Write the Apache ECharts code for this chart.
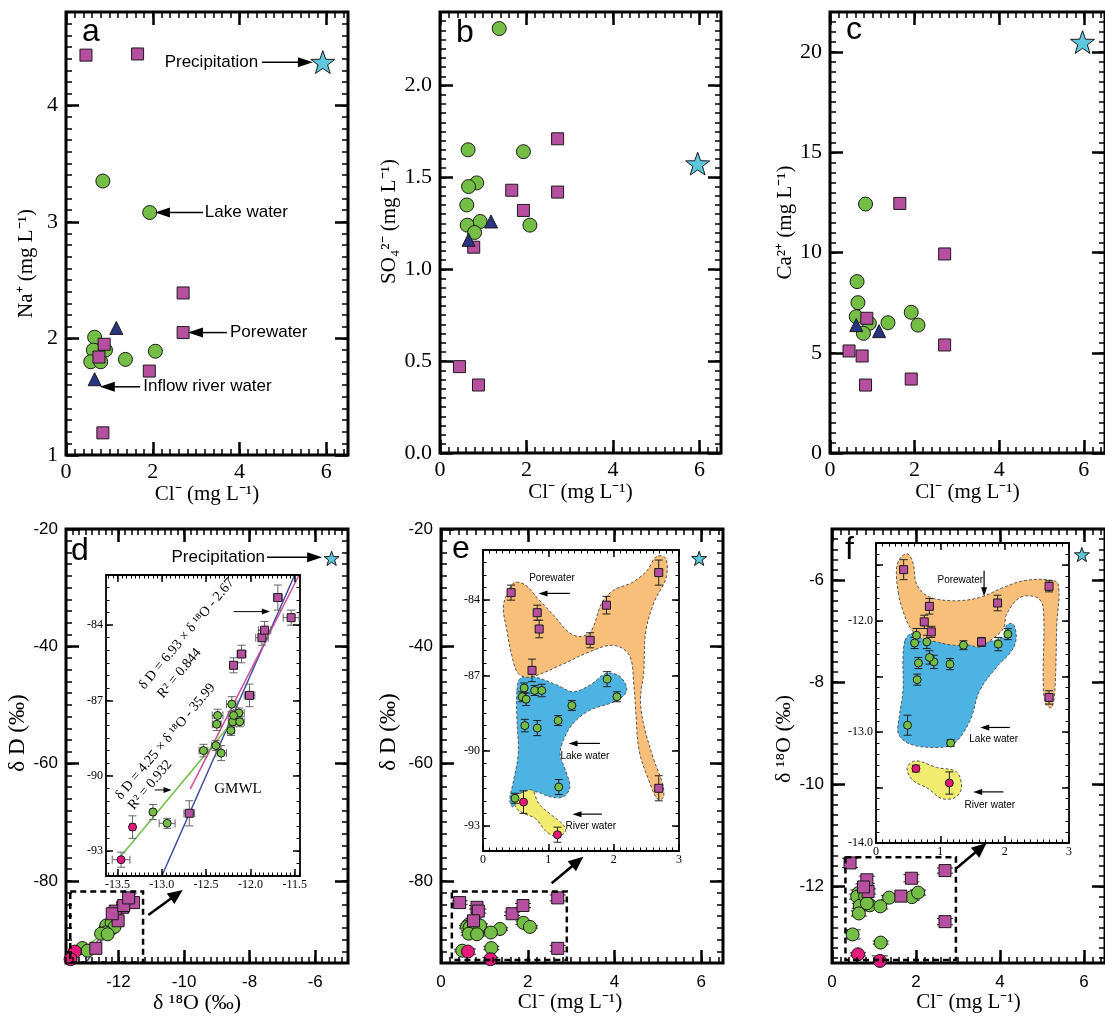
<!DOCTYPE html>
<html><head><meta charset="utf-8">
<script src="https://cdn.jsdelivr.net/npm/echarts@6/dist/echarts.min.js"></script>
<style>html,body{margin:0;padding:0;background:#fff}#c{width:1105px;height:1021px}</style>
</head><body><div id="c"></div>
<script>
// ================= DATA =================
// Panel a: Cl- vs Na+
const naLake   = [[0.85,3.35],[1.93,3.08],[0.66,2.01],[0.63,1.90],[0.91,1.90],[0.57,1.80],[0.80,1.80],[1.37,1.82],[2.06,1.89]];
const naPore   = [[0.46,4.43],[1.65,4.44],[2.70,2.39],[2.70,2.05],[0.88,1.95],[0.76,1.84],[1.92,1.72],[0.85,1.19]];
const naRiver  = [[1.16,2.09],[0.66,1.65]];
const naPrecip = [[5.92,4.37]];
// Panel b: Cl- vs SO4 2-
const so4Lake   = [[1.37,2.31],[0.65,1.65],[1.93,1.64],[0.85,1.47],[0.66,1.45],[0.62,1.35],[0.63,1.24],[0.93,1.26],[0.80,1.20],[2.08,1.24]];
const so4Pore   = [[2.72,1.71],[1.66,1.43],[2.72,1.42],[1.93,1.32],[0.78,1.12],[0.45,0.47],[0.89,0.37]];
const so4River  = [[1.18,1.26],[0.66,1.16]];
const so4Precip = [[5.96,1.575]];
// Panel c: Cl- vs Ca2+
const caLake   = [[0.84,12.42],[0.64,8.55],[0.66,7.50],[0.62,6.80],[0.93,6.47],[0.79,5.97],[1.37,6.50],[1.92,7.02],[2.08,6.38]];
const caPore   = [[1.65,12.45],[2.71,9.93],[0.87,6.72],[2.71,5.39],[0.45,5.09],[0.76,4.84],[1.92,3.69],[0.84,3.39]];
const caRiver  = [[0.62,6.38],[1.16,6.08]];
const caPrecip = [[5.97,20.5]];
// Isotopes (panels d, e, f) per sample
const poreCl     = [0.43, 0.83, 0.86, 0.75, 1.64, 1.89, 2.69, 2.69];
const poreD      = [-83.7, -84.5, -85.15, -86.8, -85.6, -84.2, -82.9, -91.5];
const pore18O    = [-11.54, -11.87, -12.10, -12.01, -12.19, -11.84, -11.69, -12.69];
const poreDErr   = [0.3, 0.3, 0.35, 0.45, 0.3, 0.35, 0.5, 0.5];
const pore18OErr = [0.09, 0.07, 0.05, 0.06, 0.04, 0.07, 0.05, 0.06];
const lakeCl     = [0.63, 0.60, 0.66, 0.79, 0.90, 1.36, 1.90, 2.05, 1.15, 0.64, 0.83, 1.16, 0.49];
const lakeD      = [-87.5, -87.85, -87.95, -87.6, -87.6, -88.2, -87.15, -87.85, -88.8, -89.0, -89.1, -91.45, -91.9];
const lake18O    = [-12.13, -12.20, -12.38, -12.19, -12.37, -12.22, -12.21, -12.12, -12.39, -12.53, -12.33, -13.10, -12.94];
const lakeDErr   = [0.2, 0.2, 0.25, 0.2, 0.25, 0.2, 0.3, 0.2, 0.2, 0.25, 0.3, 0.3, 0.2];
const lake18OErr = [0.06, 0.05, 0.05, 0.06, 0.06, 0.04, 0.06, 0.05, 0.05, 0.05, 0.06, 0.03, 0.09];
const riverCl     = [0.62, 1.14];
const riverD      = [-92.05, -93.35];
const river18O    = [-13.33, -13.46];
const riverDErr   = [0.45, 0.3];
const river18OErr = [0.03, 0.1];
const precipCl  = [5.95];
const precipD   = [-25.0];
const precip18O = [-5.5];
// Regression / meteoric water lines (end points)
const linePore = [[-12.68,-90.54],[-11.45,-82.0]];
const lineLake = [[-13.47,-93.24],[-12.12,-87.5]];
const lineGMWL = [[-13.0,-94.0],[-11.5,-82.0]];
// Group outlines in insets
const poreHullE  = [[0.31,-84.3],[0.37,-83.75],[0.48,-83.3],[0.65,-83.4],[0.86,-84.0],[1.08,-84.6],[1.3,-85.25],[1.47,-85.45],[1.65,-85.25],[1.82,-84.1],[2.0,-83.6],[2.28,-83.3],[2.5,-82.85],[2.66,-82.25],[2.8,-82.35],[2.8,-83.13],[2.62,-84.07],[2.49,-85.27],[2.46,-86.87],[2.41,-88.0],[2.47,-89.07],[2.62,-90.4],[2.75,-91.33],[2.76,-91.87],[2.67,-91.93],[2.54,-91.2],[2.39,-90.0],[2.34,-88.53],[2.31,-87.4],[2.24,-86.2],[2.0,-85.8],[1.64,-86.05],[1.18,-86.6],[0.72,-87.07],[0.54,-86.93],[0.44,-86.2],[0.36,-85.13]];
const lakeHullE  = [[0.52,-87.6],[0.57,-87.12],[0.77,-87.05],[1.13,-87.38],[1.38,-87.65],[1.64,-87.38],[1.89,-86.92],[2.1,-87.05],[2.2,-87.6],[2.05,-88.0],[1.64,-88.38],[1.43,-88.78],[1.28,-89.3],[1.18,-90.1],[1.26,-90.77],[1.33,-91.44],[1.23,-91.84],[1.03,-91.84],[0.8,-91.64],[0.62,-91.77],[0.46,-92.24],[0.41,-91.97],[0.46,-91.3],[0.54,-90.1],[0.52,-88.78]];
const riverHullE = [[0.57,-91.7],[0.75,-91.57],[0.85,-92.1],[1.05,-92.57],[1.23,-92.96],[1.26,-93.23],[1.13,-93.43],[0.97,-93.23],[0.8,-92.7],[0.62,-92.5],[0.5,-92.24],[0.51,-91.8]];
const poreHullF  = [[0.35,-11.76],[0.32,-11.52],[0.40,-11.42],[0.50,-11.40],[0.58,-11.49],[0.63,-11.67],[0.81,-11.78],[1.20,-11.82],[1.61,-11.79],[1.98,-11.70],[2.29,-11.64],[2.65,-11.63],[2.83,-11.67],[2.81,-12.03],[2.78,-12.63],[2.73,-12.78],[2.64,-12.75],[2.60,-12.57],[2.60,-11.88],[2.50,-11.79],[2.24,-11.79],[2.03,-11.94],[1.98,-12.07],[1.77,-12.18],[1.61,-12.24],[1.46,-12.22],[1.2,-12.22],[0.94,-12.19],[0.68,-12.15],[0.53,-12.06],[0.43,-11.93]];
const lakeHullF  = [[0.45,-12.18],[0.53,-12.12],[0.79,-12.09],[1.51,-12.19],[1.98,-12.15],[2.03,-12.04],[2.13,-12.03],[2.18,-12.15],[2.11,-12.27],[1.87,-12.42],[1.61,-12.63],[1.46,-12.9],[1.2,-13.11],[0.89,-13.14],[0.53,-13.11],[0.35,-13.02],[0.36,-12.87],[0.42,-12.63],[0.42,-12.33]];
const riverHullF = [[0.50,-13.30],[0.63,-13.26],[0.94,-13.32],[1.25,-13.36],[1.33,-13.50],[1.23,-13.59],[1.02,-13.60],[0.81,-13.51],[0.58,-13.44],[0.49,-13.36]];
// Zoom boxes in main panels [xmin, xmax, ymin, ymax]
const boxD = [-13.47, -11.25, -93.9, -81.8];
const boxE = [0.25, 2.90, -93.5, -81.8];
const boxF = [0.32, 2.95, -13.44, -11.43];
// Tick labels
const ticksCl      = [0, 2, 4, 6];
const ticksNa      = [1, 2, 3, 4];
const ticksSO4     = [0, 0.5, 1.0, 1.5, 2.0];
const ticksCa      = [0, 5, 10, 15, 20];
const ticks18O     = [-12, -10, -8, -6];
const ticksDD      = [-20, -40, -60, -80];
const ticks18Omain = [-6, -8, -10, -12];
const ticksIn18O   = [-13.5, -13.0, -12.5, -12.0, -11.5];
const ticksInDD    = [-84, -87, -90, -93];
const ticksInCl    = [0, 1, 2, 3];
const ticksIn18Of  = [-12.0, -13.0, -14.0];

// ================= STYLE / HELPERS =================
const SERIF = "'Liberation Serif','Times New Roman',serif";
const SANS = "'Liberation Sans',Arial,sans-serif";
const C_LAKE = '#74BE45', C_PORE = '#B64F9F', C_RIVER = '#2A3581', C_PINK = '#E5197A', C_STAR = '#5EC7DB';
const STAR = 'path://M50,0 L61.76,33.82 L97.55,34.55 L69.02,56.18 L79.39,90.45 L50,70 L20.61,90.45 L30.98,56.18 L2.45,34.55 L38.24,33.82 Z';
const zip = (a, b) => a.map((v, i) => [v, b[i]]);
const errData = (xs, ys, exs, eys) => xs.map((v, i) => [v, ys[i], exs ? exs[i] : 0, eys ? eys[i] : 0]);
function minorVals(min, max, step) {
  const out = []; const n0 = Math.ceil(min / step - 1e-9), n1 = Math.floor(max / step + 1e-9);
  for (let i = n0; i <= n1; i++) out.push(+(i * step).toFixed(6));
  return out;
}
const ST = {
  serif: {font: SERIF, size: 22, mx: 6, my: 8, majLen: 13, minLen: 6, majW: 2.5, minW: 1.5, frame: 3},
  sans:  {font: SANS, size: 17, mx: 11, my: 8, majLen: 13, minLen: 6, majW: 2.5, minW: 1.5, frame: 3},
  inset: {font: SERIF, size: 12, mx: 3, my: 3, majLen: 7, minLen: 3.5, majW: 1.5, minW: 1, frame: 1.8}
};
const grids = [], xAxes = [], yAxes = [];
function addPanel(rect, xc, yc, st, inset) {
  const g = grids.length;
  grids.push({left: rect[0], top: rect[1], width: rect[2], height: rect[3], show: true,
    backgroundColor: '#fff', borderColor: '#000', borderWidth: st.frame, z: inset ? 5 : 0});
  const mk = (c, pos, major, isX) => {
    const label = major && (pos === 'bottom' || pos === 'left');
    const ax = {
      type: 'value', gridIndex: g, position: pos, min: c.min, max: c.max, z: inset ? 40 : 30,
      axisLine: {show: false, onZero: false},
      axisTick: {show: true, inside: true, length: major ? st.majLen : st.minLen,
        customValues: major ? (c.tickVals || c.major) : minorVals(c.min, c.max, c.minor),
        lineStyle: {color: '#000', width: major ? st.majW : st.minW}},
      axisLabel: {show: label, customValues: c.major,
        formatter: v => c.dec != null ? Number(v).toFixed(c.dec) : String(v),
        fontFamily: st.font, fontSize: st.size, color: '#000', margin: isX ? st.mx : st.my},
      splitLine: {show: false}, minorTick: {show: false}
    };
    if (label && c.name) {
      ax.name = c.name; ax.nameLocation = 'middle'; ax.nameGap = c.gap;
      ax.nameTextStyle = {fontFamily: SERIF, fontSize: c.nameSize || 21, color: '#000', padding: c.pad || 0};
    }
    return ax;
  };
  xAxes.push(mk(xc, 'bottom', true, true), mk(xc, 'bottom', false, true), mk(xc, 'top', true, true), mk(xc, 'top', false, true));
  yAxes.push(mk(yc, 'left', true, false), mk(yc, 'left', false, false), mk(yc, 'right', true, false), mk(yc, 'right', false, false));
  return g;
}
const CLNAME = 'Cl\u207B (mg L\u207B\u00B9)';
const gA = addPanel([66,12,282,443], {min:0,max:6.5,major:ticksCl,minor:0.2,name:CLNAME,gap:22},
  {min:1,max:4.8,major:ticksNa,minor:0.1,name:'Na\u207A (mg L\u207B\u00B9)',gap:29,pad:[0,60,0,0]}, ST.serif);
const gB = addPanel([440,12,281,441], {min:0,max:6.5,major:ticksCl,minor:0.2,name:CLNAME,gap:22},
  {min:0,max:2.4,major:ticksSO4,minor:0.05,dec:1,name:'SO\u2084\u00B2\u207B (mg L\u207B\u00B9)',gap:40,pad:[0,0,0,22]}, ST.serif);
const gC = addPanel([830,12,282,441], {min:0,max:6.5,major:ticksCl,minor:0.2,name:CLNAME,gap:22},
  {min:0,max:22,major:ticksCa,minor:0.5,name:'Ca\u00B2\u207A (mg L\u207B\u00B9)',gap:33,pad:[0,0,0,20]}, ST.serif);
const gD = addPanel([66,529,282,434], {min:-13.6,max:-5,major:ticks18O,minor:0.2,name:'\u03B4 \u00B9\u2078O (\u2030)',gap:27,nameSize:22,pad:[0,20,0,0]},
  {min:-94,max:-20,major:ticksDD,minor:2,name:'\u03B4 D (\u2030)',gap:36,nameSize:23,pad:[0,0,0,26]}, ST.sans);
const gE = addPanel([441,529,282,434], {min:0,max:6.5,major:ticksCl,minor:0.2,name:CLNAME,gap:26,pad:[0,24,0,0]},
  {min:-94,max:-20,major:ticksDD,minor:2,name:'\u03B4 D (\u2030)',gap:41,nameSize:23,pad:[0,0,0,28]}, ST.sans);
const gF = addPanel([832,529,282,434], {min:0,max:6.5,major:ticksCl,minor:0.2,name:CLNAME,gap:24},
  {min:-13.5,max:-5,major:ticks18Omain,minor:0.2,name:'\u03B4 \u00B9\u2078O (\u2030)',gap:24,nameSize:22,pad:[0,0,0,14]}, ST.sans);
const gDi = addPanel([106,575,194,301], {min:-13.63,max:-11.44,major:ticksIn18O,minor:0.05,dec:1},
  {min:-94,max:-82,major:ticksInDD,minor:0.5}, ST.inset, true);
const gEi = addPanel([483,550,196,301], {min:0,max:3,major:ticksInCl,minor:0.1},
  {min:-94,max:-82,major:ticksInDD,minor:0.5}, ST.inset, true);
const gFi = addPanel([876,543,193,300], {min:0,max:3,major:ticksInCl,minor:0.1},
  {min:-14,max:-11.3,major:ticksIn18Of,tickVals:[-11.5,-12,-12.5,-13,-13.5,-14],minor:0.1,dec:1}, ST.inset, true);

const ax = g => ({xAxisIndex: g * 4, yAxisIndex: g * 4});
function scat(g, data, symbol, size, color, z) {
  return Object.assign({type: 'scatter', data, symbol, symbolSize: size, symbolKeepAspect: true, silent: true, z,
    itemStyle: {color, borderColor: '#1a1a1a', borderWidth: 1, opacity: 1}}, ax(g));
}
function errSeries(g, data, o) {
  return Object.assign({type: 'custom', z: o.z, silent: true, clip: true, encode: {x: 0, y: 1}, data,
    renderItem: (p, api) => {
      const x = api.value(0), y = api.value(1), ex = api.value(2), ey = api.value(3);
      const ch = [], st = {stroke: o.color, lineWidth: o.lw};
      const L = (a, b) => ch.push({type: 'line', shape: {x1: a[0], y1: a[1], x2: b[0], y2: b[1]}, style: st});
      if (ey > 0) { const a = api.coord([x, y - ey]), b = api.coord([x, y + ey]); L(a, b);
        L([a[0] - o.cap, a[1]], [a[0] + o.cap, a[1]]); L([b[0] - o.cap, b[1]], [b[0] + o.cap, b[1]]); }
      if (ex > 0) { const a = api.coord([x - ex, y]), b = api.coord([x + ex, y]); L(a, b);
        L([a[0], a[1] - o.cap], [a[0], a[1] + o.cap]); L([b[0], b[1] - o.cap], [b[0], b[1] + o.cap]); }
      return {type: 'group', children: ch};
    }}, ax(g));
}
function lineSeries(g, data, color, z) {
  return Object.assign({type: 'line', data, symbol: 'none', silent: true, z, lineStyle: {color, width: 1.5}}, ax(g));
}
function blob(g, hull, fill, z) {
  return Object.assign({type: 'custom', z, silent: true, encode: {x: 0, y: 1}, data: [hull[0]],
    renderItem: (p, api) => ({type: 'polygon', shape: {points: hull.map(q => api.coord(q)), smooth: 0.35},
      style: {fill, stroke: '#555', lineWidth: 1, lineDash: [3, 2]}})}, ax(g));
}
function boxSeries(g, r, z) {
  return Object.assign({type: 'custom', z, silent: true, encode: {x: [0, 1], y: [2, 3]}, data: [r],
    renderItem: (p, api) => { const a = api.coord([api.value(0), api.value(3)]), b = api.coord([api.value(1), api.value(2)]);
      return {type: 'rect', shape: {x: a[0], y: a[1], width: b[0] - a[0], height: b[1] - a[1]},
        style: {fill: 'none', stroke: '#000', lineWidth: 2.5, lineDash: [6, 4]}}; }}, ax(g));
}
function arrows(g, list, o) {
  return Object.assign({type: 'custom', z: o.z, silent: true, encode: {x: [0, 2], y: [1, 3]}, data: list,
    renderItem: (p, api) => {
      const a = api.coord([api.value(0), api.value(1)]), b = api.coord([api.value(2), api.value(3)]);
      const dx = b[0] - a[0], dy = b[1] - a[1], len = Math.hypot(dx, dy), ux = dx / len, uy = dy / len;
      const bx = b[0] - ux * o.hl, by = b[1] - uy * o.hl, nx = -uy * o.hw / 2, ny = ux * o.hw / 2;
      return {type: 'group', children: [
        {type: 'line', shape: {x1: a[0], y1: a[1], x2: bx + ux, y2: by + uy}, style: {stroke: '#000', lineWidth: o.lw}},
        {type: 'polygon', shape: {points: [b, [bx + nx, by + ny], [bx - nx, by - ny]]}, style: {fill: '#000'}}]};
    }}, ax(g));
}
function texts(g, list, z) {
  return Object.assign({type: 'custom', z, silent: true, encode: {x: 0, y: 1}, data: list.map(t => [t.x, t.y]),
    renderItem: (p, api) => { const t = list[p.dataIndex]; const c = api.coord([api.value(0), api.value(1)]);
      return {type: 'text', x: c[0], y: c[1], rotation: (t.rot || 0) * Math.PI / 180,
        style: {text: t.text, font: t.font, fill: '#000', align: t.align || 'center', verticalAlign: 'middle'}}; }}, ax(g));
}
const F17 = "17px " + SANS, F10 = "10px " + SANS, FEQ = "14px " + SERIF;

// annotations
const notesA = [{x:4.43,y:4.37,text:'Precipitation',align:'right',font:F17},{x:3.20,y:3.08,text:'Lake water',align:'left',font:F17},
  {x:3.78,y:2.05,text:'Porewater',align:'left',font:F17},{x:1.78,y:1.585,text:'Inflow river water',align:'left',font:F17}];
const arrowsA = [[4.52,4.37,5.69,4.37],[3.16,3.08,2.05,3.08],[3.71,2.05,2.81,2.05],[1.71,1.585,0.78,1.585]];
const notesD = [{x:-7.53,y:-24.8,text:'Precipitation',align:'right',font:F17}];
const arrowsD = [[-7.47,-24.8,-5.79,-24.8]];
const notesDi = [{x:-12.72,y:-84.35,text:'\u03B4 D = 6.93 \u00D7 \u03B4 \u00B9\u2078O - 2.67',rot:50,font:FEQ},
  {x:-12.80,y:-85.92,text:'R\u00B2 = 0.844',rot:50,font:FEQ},
  {x:-12.96,y:-88.64,text:'\u03B4 D = 4.25 \u00D7 \u03B4 \u00B9\u2078O - 35.99',rot:50,font:FEQ},
  {x:-13.13,y:-90.37,text:'R\u00B2 = 0.932',rot:50,font:FEQ},
  {x:-12.14,y:-90.53,text:'GMWL',font:"15px " + SERIF}];
const arrowsDi = [[-12.19,-83.46,-11.78,-83.46],[-13.08,-90.57,-12.89,-90.57]];
const notesEi = [{x:1.056,y:-83.12,text:'Porewater',font:F10},{x:1.56,y:-90.21,text:'Lake water',font:F10},{x:1.65,y:-93.0,text:'River water',font:F10}];
const arrowsEi = [[1.33,-83.73,0.85,-83.73],[1.79,-89.71,1.31,-89.71],[1.82,-92.53,1.37,-92.53]];
const notesFi = [{x:1.31,y:-11.633,text:'Porewater',font:F10},{x:1.83,y:-13.07,text:'Lake water',font:F10},{x:1.77,y:-13.66,text:'River water',font:F10}];
const arrowsFi = [[1.68,-11.55,1.68,-11.78],[2.08,-12.96,1.62,-12.96],[1.98,-13.54,1.51,-13.54]];

const series = [];
// ---- a, b, c ----
[[gA, naLake, naPore, naRiver, naPrecip], [gB, so4Lake, so4Pore, so4River, so4Precip], [gC, caLake, caPore, caRiver, caPrecip]].forEach(([g, l, p, r, s]) => {
  series.push(scat(g, l, 'circle', 14, C_LAKE, 3), scat(g, p, 'rect', 12, C_PORE, 4),
    scat(g, r, 'triangle', 13, C_RIVER, 5), scat(g, s, STAR, 24, C_STAR, 6));
});
series.push(texts(gA, notesA, 8), arrows(gA, arrowsA, {z: 8, lw: 1.5, hl: 15, hw: 10}));
// ---- d (main + inset) ----
[[gD, 13, 12, 6, '#666', 2], [gDi, 8, 8, 4, '#666', 12]].forEach(([g, cs, ss, cap, col, z]) => {
  series.push(lineSeries(g, lineGMWL, '#3E4E9E', z), lineSeries(g, linePore, '#D4499B', z), lineSeries(g, lineLake, '#6DBE45', z));
  series.push(errSeries(g, errData(lake18O, lakeD, lake18OErr, lakeDErr), {z: z + 1, color: col, lw: 1, cap}),
    errSeries(g, errData(pore18O, poreD, pore18OErr, poreDErr), {z: z + 1, color: col, lw: 1, cap}),
    errSeries(g, errData(river18O, riverD, river18OErr, riverDErr), {z: z + 1, color: col, lw: 1, cap}));
  series.push(scat(g, zip(lake18O, lakeD), 'circle', cs, C_LAKE, z + 2), scat(g, zip(pore18O, poreD), 'rect', ss, C_PORE, z + 3),
    scat(g, zip(river18O, riverD), 'circle', cs, C_PINK, z + 4));
});
series.push(scat(gD, zip(precip18O, precipD), STAR, 15, C_STAR, 6), texts(gD, notesD, 8),
  arrows(gD, arrowsD, {z: 8, lw: 1.5, hl: 15, hw: 10}), boxSeries(gD, boxD, 7),
  arrows(gD, [[-11.09,-85.8,-10.04,-81.55]], {z: 8, lw: 2.5, hl: 15, hw: 13}),
  texts(gDi, notesDi, 20), arrows(gDi, arrowsDi, {z: 20, lw: 1, hl: 8, hw: 6}));
// ---- e, f (main + inset) ----
function isoPanel(g, yLake, yPore, yRiver, eLake, ePore, eRiver, cs, ss, cap, z) {
  series.push(errSeries(g, errData(lakeCl, yLake, null, eLake), {z, color: '#222', lw: 1, cap}),
    errSeries(g, errData(poreCl, yPore, null, ePore), {z, color: '#222', lw: 1, cap}),
    errSeries(g, errData(riverCl, yRiver, null, eRiver), {z, color: '#222', lw: 1, cap}),
    scat(g, zip(lakeCl, yLake), 'circle', cs, C_LAKE, z + 1), scat(g, zip(poreCl, yPore), 'rect', ss, C_PORE, z + 2),
    scat(g, zip(riverCl, yRiver), 'circle', cs, C_PINK, z + 3));
}
isoPanel(gE, lakeD, poreD, riverD, lakeDErr, poreDErr, riverDErr, 13, 12, 8, 2);
isoPanel(gF, lake18O, pore18O, river18O, lake18OErr, pore18OErr, river18OErr, 13, 12, 8, 2);
series.push(blob(gEi, lakeHullE, '#4DB3E3', 10), blob(gEi, poreHullE, '#F7BF7A', 11), blob(gEi, riverHullE, '#F1EC6F', 11));
series.push(blob(gFi, lakeHullF, '#4DB3E3', 10), blob(gFi, poreHullF, '#F7BF7A', 11), blob(gFi, riverHullF, '#F1EC6F', 11));
isoPanel(gEi, lakeD, poreD, riverD, lakeDErr, poreDErr, riverDErr, 8, 8, 4, 13);
isoPanel(gFi, lake18O, pore18O, river18O, lake18OErr, pore18OErr, river18OErr, 8, 8, 4, 13);
series.push(scat(gE, zip(precipCl, precipD), STAR, 15, C_STAR, 6), scat(gF, zip(precipCl, precip18O), STAR, 15, C_STAR, 6),
  boxSeries(gE, boxE, 7), boxSeries(gF, boxF, 7),
  arrows(gE, [[2.55,-80.41,3.28,-75.87]], {z: 8, lw: 2.5, hl: 15, hw: 13}),
  arrows(gF, [[2.95,-11.655,3.68,-11.15]], {z: 8, lw: 2.5, hl: 15, hw: 13}),
  texts(gEi, notesEi, 20), arrows(gEi, arrowsEi, {z: 20, lw: 1.2, hl: 9, hw: 6}),
  texts(gFi, notesFi, 20), arrows(gFi, arrowsFi, {z: 20, lw: 1.2, hl: 9, hw: 6}));

const letter = (t, l, tp) => ({text: t, left: l, top: tp, textStyle: {fontFamily: SANS, fontSize: 32, fontWeight: 'normal', color: '#000'}});
const chart = echarts.init(document.getElementById('c'), null, {renderer: 'canvas'});
chart.setOption({
  animation: false, backgroundColor: '#fff',
  title: [letter('a', 77, 11), letter('b', 451, 12), letter('c', 841, 9), letter('d', 66, 530), letter('e', 447, 528), letter('f', 840, 529)],
  grid: grids, xAxis: xAxes, yAxis: yAxes, series
});
</script></body></html>
